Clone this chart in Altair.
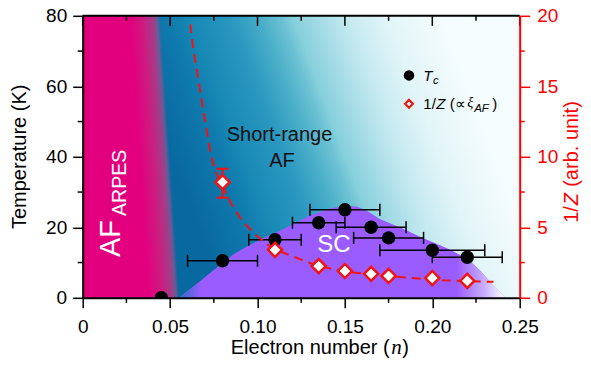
import altair as alt
import pandas as pd

W, H = 437, 282
FONT = "Liberation Sans"
SERIF = "Liberation Serif"
RED = "#ff0000"
MRED = "#f01414"
PURPLE = "#9b5cff"

# ---------------- data ----------------
n_domain = [0.0, 0.25]
T_domain = [0, 80]
Z_domain = [0, 20]

n_major = [0.0, 0.05, 0.10, 0.15, 0.20, 0.25]
n_minor = [0.025, 0.075, 0.125, 0.175, 0.225]
T_major = [0, 20, 40, 60, 80]
T_minor = [10, 30, 50, 70]
Z_major = [0, 5, 10, 15, 20]
Z_minor = [2.5, 7.5, 12.5, 17.5]

# Tc (left axis)
tc_n = [0.045, 0.08, 0.11, 0.135, 0.15, 0.165, 0.175, 0.20, 0.22]
tc_T = [0.0, 10.5, 16.5, 21.3, 25.0, 20.0, 17.0, 13.5, 11.5]
tc_nerr = [0.0, 0.02, 0.015, 0.015, 0.02, 0.02, 0.02, 0.03, 0.02]

# 1/Z (right axis)
z_n = [0.08, 0.11, 0.135, 0.15, 0.165, 0.175, 0.20, 0.22]
z_v = [8.2, 3.4, 2.25, 1.9, 1.7, 1.55, 1.4, 1.2]
z_err_n = [0.08]
z_err_lo = [7.1]
z_err_hi = [9.15]

# dashed guide curve (right axis)
curve_n = [0.0615, 0.0634, 0.0650, 0.0682, 0.0710, 0.0729, 0.0758, 0.0800, 0.0853,
           0.0910, 0.0977, 0.1054, 0.1100, 0.1189, 0.1303, 0.1426, 0.1550, 0.1700,
           0.1860, 0.2056, 0.2200, 0.2350]
curve_v = [19.4, 17.5, 16.4, 13.9, 11.8, 10.4, 9.0, 7.9, 6.6,
           5.5, 4.6, 3.8, 3.45, 3.0, 2.45, 2.05, 1.8, 1.6,
           1.42, 1.25, 1.18, 1.13]

# SC dome boundary (left axis)
dome_n = [0.055, 0.0615, 0.0672, 0.075, 0.0863, 0.0939, 0.1030, 0.1130, 0.1220,
          0.1300, 0.1417, 0.1500, 0.1570, 0.1626, 0.1700, 0.1817, 0.1950, 0.2085,
          0.2203, 0.2276, 0.2352, 0.2419]
dome_T = [0.0, 2.5, 4.7, 7.8, 12.3, 14.5, 16.8, 19.0, 21.3,
          23.3, 25.3, 26.0, 25.8, 24.6, 22.3, 19.9, 16.8, 14.0,
          11.0, 7.6, 3.3, 0.0]

# ---------------- scales & axes ----------------
xs = alt.Scale(domain=n_domain, nice=False, zero=False)
ts = alt.Scale(domain=T_domain, nice=False, zero=False)
zs = alt.Scale(domain=Z_domain, nice=False, zero=False)

XAX = alt.Axis(values=n_major, title=None, orient="bottom", grid=False,
               labelExpr="datum.value == 0 ? '0' : format(datum.value, '.2f')",
               labelFont=FONT, labelFontSize=19, labelColor="black", labelPadding=10,
               labelFlush=False, labelOverlap=False,
               tickSize=10, tickWidth=1.5, tickColor="black",
               domainColor="black", domainWidth=2, zindex=2)
YTAX = alt.Axis(values=T_major, title=None, orient="left", grid=False,
                labelFont=FONT, labelFontSize=19, labelColor="black", labelPadding=6,
                labelFlush=False, labelOverlap=False,
                tickSize=10, tickWidth=1.5, tickColor="black",
                domainColor="black", domainWidth=2, zindex=2)
YZAX = alt.Axis(values=Z_major, title=None, orient="right", grid=False,
                labelFont=FONT, labelFontSize=19, labelColor=RED, labelPadding=7,
                labelFlush=False, labelOverlap=False,
                tickSize=10, tickWidth=1.5, tickColor=RED,
                domainColor=RED, domainWidth=2, zindex=2)


def X(f):
    return alt.X(f, type="quantitative", scale=xs, axis=XAX)


def YT(f):
    return alt.Y(f, type="quantitative", scale=ts, axis=YTAX)


def YZ(f):
    return alt.Y(f, type="quantitative", scale=zs, axis=YZAX)


def stops(pairs):
    return [alt.GradientStop(color=c, offset=o) for o, c in pairs]


# ---------------- left-axis group ----------------
bg_df = pd.DataFrame({"x": [n_domain[0]], "x2": [n_domain[1]],
                      "y": [T_domain[0]], "y2": [T_domain[1]]})
teal = alt.Chart(bg_df).mark_rect(
    color=alt.Gradient(gradient="linear", x1=0.2, y1=0.5, x2=0.9, y2=0.33,
                       stops=stops([(0.0, "#0868a0"), (0.155, "#0f7aad"), (0.22, "#1888b5"),
                                    (0.35, "#2a98c0"), (0.434, "#48adc8"), (0.506, "#6cc2d3"),
                                    (0.54, "#86cfdc"), (0.67, "#b8e4ec"), (0.72, "#c8ebf1"),
                                    (0.83, "#e2f5f8"), (1.0, "#f5fcfd")]))
).encode(x=X("x"), x2="x2", y=YT("y"), y2="y2")

pink_df = pd.DataFrame({"x": [0.0], "x2": [0.06], "y": [T_domain[0]], "y2": [T_domain[1]]})
pink = alt.Chart(pink_df).mark_rect(
    color=alt.Gradient(gradient="linear", x1=0.5, y1=0.5, x2=1.0, y2=0.408,
                       stops=stops([(0.0, "rgba(226,0,126,1)"), (0.08, "rgba(226,0,126,1)"),
                                    (0.32, "rgba(205,28,128,1)"),
                                    (0.50, "rgba(172,58,134,0.95)"),
                                    (0.58, "rgba(145,82,145,0.7)"),
                                    (0.64, "rgba(120,90,150,0.0)"), (1.0, "rgba(120,90,150,0.0)")]))
).encode(x=X("x"), x2="x2", y=YT("y"), y2="y2")

dome_df = pd.DataFrame({"n": dome_n, "T": dome_T, "base": [0.0] * len(dome_n)})
dome_solid = alt.Chart(dome_df).mark_area(color=PURPLE, opacity=1).encode(
    x=X("n"), y=YT("T"), y2=alt.Y2("base"))
dome_grad = alt.Chart(dome_df).mark_area(
    fill=alt.Gradient(gradient="linear", x1=0, y1=0.5, x2=1, y2=0.5,
                      stops=stops([(0.0, "#2a6cc4"), (0.07, PURPLE), (0.85, PURPLE),
                                   (0.93, "#c4a8ff"), (0.98, "#efe8ff"), (1.0, "#ffffff")])),
    opacity=1, orient="vertical"
).encode(x=X("n"), y=YT("T"), y2=alt.Y2("base"))


def label(text, n, T, size, color, angle=0, font=FONT, style="normal"):
    df = pd.DataFrame({"n": [n], "T": [T], "t": [text]})
    kw = dict(fontSize=size, color=color, font=font, fontStyle=style,
              align="center", baseline="middle")
    if angle:
        kw["angle"] = angle
    return alt.Chart(df).mark_text(**kw).encode(x=X("n"), y=YT("T"), text="t:N")


lab_af = label("AF", 0.0161, 16.8, 29, "white", angle=270)
lab_arpes = label("ARPES", 0.0216, 32.6, 19.5, "white", angle=270)
lab_sr = label("Short-range", 0.1126, 46.2, 20, "#111111")
lab_sr2 = label("AF", 0.114, 38.9, 20, "#111111")
lab_sc = label("SC", 0.1437, 15.0, 24, "white")

tc_df = pd.DataFrame({"n": tc_n, "T": tc_T, "e": tc_nerr})
err_df = tc_df[tc_df["e"] > 0].copy()
err_df["lo"] = err_df["n"] - err_df["e"]
err_df["hi"] = err_df["n"] + err_df["e"]
cap_df = pd.DataFrame({"c": list(err_df["lo"]) + list(err_df["hi"]),
                       "T": list(err_df["T"]) * 2})

tc_err = alt.Chart(err_df).mark_rule(color="black", strokeWidth=1.5).encode(
    x=X("lo"), x2="hi", y=YT("T"))
tc_cap = alt.Chart(cap_df).mark_tick(orient="vertical", size=12, thickness=1.5,
                                     color="black", opacity=1).encode(x=X("c"), y=YT("T"))
tc_pts = alt.Chart(tc_df).mark_circle(size=180, color="black", opacity=1, clip=True).encode(
    x=X("n"), y=YT("T"))

tmin_df = pd.DataFrame({"T": T_minor})
left_minor = alt.Chart(tmin_df).mark_rule(color="black", strokeWidth=1.5).encode(
    y=YT("T"), x=alt.value(-5), x2=alt.value(0))

t_group = alt.layer(teal, pink, dome_solid, dome_grad, lab_af, lab_arpes, lab_sr, lab_sr2,
                    lab_sc, tc_err, tc_cap, tc_pts, left_minor)

# ---------------- right-axis group ----------------
curve_df = pd.DataFrame({"n": curve_n, "v": curve_v})
curve = alt.Chart(curve_df).mark_line(color=MRED, strokeWidth=2, strokeDash=[9, 6]).encode(
    x=X("n"), y=YZ("v"))

zerr_df = pd.DataFrame({"n": z_err_n, "lo": z_err_lo, "hi": z_err_hi})
zcap_df = pd.DataFrame({"n": z_err_n * 2, "v": z_err_lo + z_err_hi})
z_err = alt.Chart(zerr_df).mark_rule(color=MRED, strokeWidth=2).encode(
    x=X("n"), y=YZ("lo"), y2="hi")
z_cap = alt.Chart(zcap_df).mark_tick(orient="horizontal", size=12, thickness=2,
                                     color=MRED, opacity=1).encode(x=X("n"), y=YZ("v"))
z_df = pd.DataFrame({"n": z_n, "v": z_v})
z_pts = alt.Chart(z_df).mark_point(shape="diamond", filled=True, fill="white", stroke=MRED,
                                   strokeWidth=2.5, size=200, opacity=1).encode(
    x=X("n"), y=YZ("v"))

zmin_df = pd.DataFrame({"v": Z_minor})
right_minor = alt.Chart(zmin_df).mark_rule(color=RED, strokeWidth=1.5).encode(
    y=YZ("v"), x=alt.value(W), x2=alt.value(W + 5))

z_group = alt.layer(curve, z_err, z_cap, z_pts, right_minor)

# ---------------- frame decorations ----------------
nmin_df = pd.DataFrame({"n": n_minor})
nmaj_df = pd.DataFrame({"n": n_major})
bottom_minor = alt.Chart(nmin_df).mark_rule(color="black", strokeWidth=1.5).encode(
    x=X("n"), y=alt.value(H), y2=alt.value(H + 5))
top_major = alt.Chart(nmaj_df).mark_rule(color="black", strokeWidth=1.5).encode(
    x=X("n"), y=alt.value(0), y2=alt.value(10))
top_minor = alt.Chart(nmin_df).mark_rule(color="black", strokeWidth=1.5).encode(
    x=X("n"), y=alt.value(0), y2=alt.value(5))

one = pd.DataFrame({"a": [0]})
top_border = alt.Chart(one).mark_rule(color="black", strokeWidth=2).encode(
    x=alt.value(0), x2=alt.value(W), y=alt.value(0))


def ptext(text, x, y, size, color="black", font=FONT, style="normal", align="left",
          angle=0, baseline="alphabetic"):
    df = pd.DataFrame({"t": [text]})
    kw = dict(fontSize=size, color=color, font=font, fontStyle=style, align=align,
              baseline=baseline)
    if angle:
        kw["angle"] = angle
    return alt.Chart(df).mark_text(**kw).encode(x=alt.value(x), y=alt.value(y), text="t:N")


# legend
leg_circle = alt.Chart(one).mark_circle(size=110, color="black", opacity=1).encode(
    x=alt.value(326.3), y=alt.value(59.6))
leg_diamond = alt.Chart(one).mark_point(shape="diamond", filled=True, fill="white",
                                        stroke=MRED, strokeWidth=2.2, size=60, opacity=1).encode(
    x=alt.value(326.3), y=alt.value(88))
leg_texts = [
    ptext("T", 340.6, 65.5, 15, style="italic"),
    ptext("c", 350.2, 68.5, 11, style="italic"),
    ptext("1/", 340.6, 93, 15),
    ptext("Z", 353.5, 93, 15, style="italic"),
    ptext("(\u221d", 367, 93, 15),
    ptext("\u03be", 384.5, 91.5, 14, font=SERIF, style="italic"),
    ptext("AF", 391.5, 96, 11.5, style="italic"),
    ptext(")", 409.5, 93, 15),
]

# axis titles as text (to allow italic parts)
titles = [
    ptext("Electron number (", 307, 338, 20, align="right"),
    ptext("n", 308.5, 338, 21, font=SERIF, style="italic"),
    ptext(")", 319.5, 338, 20),
    ptext("Temperature (K)", -57, 141, 20, align="center", angle=270),
    ptext("1/", 495.5, 207, 20, color=RED, angle=270),
    ptext("Z", 495.5, 189.5, 20, color=RED, style="italic", angle=270),
    ptext("(arb. unit)", 495.5, 171, 20, color=RED, angle=270),
]

chart = alt.layer(
    t_group, z_group, bottom_minor, top_major, top_minor, top_border,
    leg_circle, leg_diamond, *leg_texts, *titles
).resolve_scale(y="independent").properties(
    width=W, height=H,
    autosize=alt.AutoSizeParams(type="none"),
    padding={"left": 74.7, "top": 7.8, "right": 63.3, "bottom": 60.2},
).configure_view(strokeWidth=0)

chart.save("out.html", embed_options={"renderer": "svg", "actions": False})
